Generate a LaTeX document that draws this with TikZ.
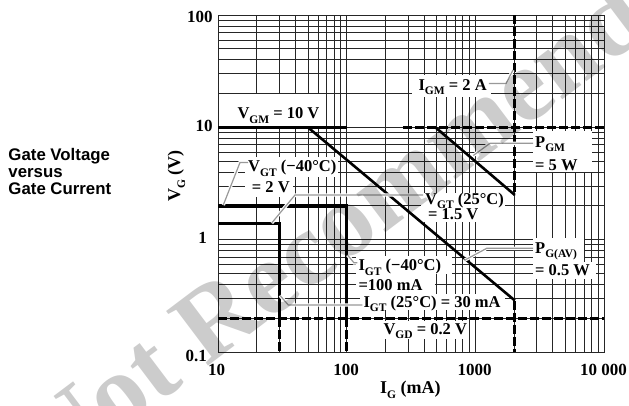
\documentclass[tikz,border=0pt]{standalone}
\usepackage{fontspec}
\setmainfont{Liberation Serif}
\newfontfamily\sansf{Liberation Sans}
\newcommand\sbs[1]{\raisebox{-0.28em}{\fontsize{11.5}{12}\selectfont #1}}
\begin{document}
\begin{tikzpicture}[x=1pt,y=-1pt,
 gridline/.style={draw=black!85,line width=0.9pt},
 mask/.style={fill=white,draw=none},
 thk/.style={line width=3.2pt},
 thkd/.style={line width=3.2pt,dash pattern=on 9pt off 3pt},
 diag/.style={line width=2.6pt},
 lead/.style={draw=black!40,line width=1.2pt,preaction={draw=white,line width=3.4pt}},
 lbl/.style={font=\fontsize{16.5}{18}\selectfont\bfseries,inner sep=0pt,anchor=base west},
 tick/.style={font=\fontsize{17}{18}\selectfont\bfseries,inner sep=0pt},
 side/.style={font=\sansf\bfseries\fontsize{16.8}{17}\selectfont,inner sep=0pt,anchor=base west}]
\useasboundingbox[fill=white] (0,0) rectangle (629,405);

% grid
\begin{scope}[shift={(218,352)},x=128.7pt,y=112.3pt]
\foreach \d in {0,1,2}{\foreach \m in {1,...,9}{
  \draw[gridline] ({\d+log10(\m)},0) -- ({\d+log10(\m)},3);
  \draw[gridline] (0,{\d+log10(\m)}) -- (3,{\d+log10(\m)});}}
\draw[gridline] (0,0) rectangle (3,3);
\end{scope}

% masks behind labels
\fill[mask] (218.6,94.4) rectangle (322,126);
\fill[mask] (412,74.6) rectangle (491,97);
\fill[mask] (245,157) rectangle (338,177);
\fill[mask] (245,177) rectangle (293,197);
\fill[mask] (421,193) rectangle (505,208);
\fill[mask] (421,208) rectangle (482,222);
\fill[mask] (356,256) rectangle (452,274);
\fill[mask] (356,274) rectangle (435,294);
\fill[mask] (360,294) rectangle (505,310);
\fill[mask] (378,320.6) rectangle (468,339);
\fill[mask] (533,131) rectangle (592,172);
\fill[mask] (533,238) rectangle (584,262);
\fill[mask] (533,262) rectangle (596,279);

% key points
\coordinate (l10) at (218,127.4);  \coordinate (m10) at (346.7,127.4);
\coordinate (d10a) at (403,127.4); \coordinate (r10) at (604,127.4);
\coordinate (l2) at (218,205.9);   \coordinate (c2) at (346.7,205.9);
\coordinate (c2b) at (346.7,318.2); \coordinate (c2e) at (346.7,352);
\coordinate (l15) at (218,223.3);  \coordinate (c15) at (279.4,223.3);
\coordinate (c15b) at (279.4,318.2); \coordinate (c15e) at (279.4,352);
\coordinate (gdl) at (218,318.2);  \coordinate (gdr) at (604,318.2);
\coordinate (gmt) at (514.8,15);   \coordinate (gmm) at (514.8,195);
\coordinate (gmn) at (514.8,300.5); \coordinate (gmb) at (514.8,352);
\coordinate (pgms) at (435.5,127.4); \coordinate (pgme) at (514.8,195);
\coordinate (pavs) at (308,127.4); \coordinate (pave) at (514.8,300.5);

% thick characteristic lines
\draw[thk] (l10) -- (m10);
\draw[thkd] (d10a) -- (r10);
\draw[thk] (l2) -- (c2) -- (c2b);
\draw[thkd] (c2b) -- (c2e);
\draw[thk] (l15) -- (c15) -- (c15b);
\draw[thkd] (c15b) -- (c15e);
\draw[thkd] (gdl) -- (gdr);
\draw[thkd] (gmt) -- (gmm);
\draw[thkd] (gmn) -- (gmb);
\draw[diag] (pgms) -- (pgme);
\draw[diag] (pavs) -- (pave);

% labels
\node[lbl] (vgm) at (237.3,118.5) {V\sbs{GM} = 10 V};
\node[lbl] (igm) at (418.3,90) {I\sbs{GM} = 2 A};
\node[lbl] (pgm1) at (535,147) {P\sbs{GM}};
\node[lbl] (pgm2) at (535,170) {= 5 W};
\node[lbl] (vgt40a) at (248,171.7) {V\sbs{GT} (−40°C)};
\node[lbl] (vgt40b) at (251.7,192.7) {= 2 V};
\node[lbl] (vgt25a) at (425,204) {V\sbs{GT} (25°C)};
\node[lbl] (vgt25b) at (428,219.3) {= 1.5 V};
\node[lbl] (pav1) at (535,253.3) {P\sbs{G(AV)}};
\node[lbl] (pav2) at (535,275.7) {= 0.5 W};
\node[lbl] (igt40a) at (358.3,270.7) {I\sbs{GT} (−40°C)};
\node[lbl] (igt40b) at (358.3,290) {=100 mA};
\node[lbl] (igt25) at (363.3,307) {I\sbs{GT} (25°C) = 30 mA};
\node[lbl] (vgd) at (383.3,334) {V\sbs{GD} = 0.2 V};

% leaders
\coordinate (a1) at (240,162.5); \coordinate (a1e) at (223.3,205);
\draw[lead] (vgt40a.west |- a1) -- (a1) -- (a1e);
\coordinate (a2) at (295,195); \coordinate (a2e) at (271.7,223);
\draw[lead] ([xshift=-2pt]vgt25a.west |- a2) -- (a2) -- (a2e);
\coordinate (a3) at (354,262.8); \coordinate (a3e) at (347.5,255);
\draw[lead] ([xshift=-1pt]igt40a.west |- a3) -- (a3) -- (a3e);
\coordinate (a4) at (288.3,305); \coordinate (a4e) at (280,295.5);
\draw[lead] ([xshift=-1pt]igt25.west |- a4) -- (a4) -- (a4e);
\coordinate (a5) at (486.7,248.3); \coordinate (a5e) at (465,260);
\draw[lead] ([xshift=-2pt]pav1.west |- a5) -- (a5) -- (a5e);
\coordinate (a6) at (490,143.3); \coordinate (a6e) at (473.3,155.5);
\draw[lead] ([xshift=-2pt]pgm1.west |- a6) -- (a6) -- (a6e);
\coordinate (a7) at (506,83.5); \coordinate (a7e) at (513,70);
\draw[lead] ([xshift=2pt]igm.east |- a7) -- (a7) -- (a7e);

% axis numbers
\node[tick,anchor=base east] (y100) at (212.7,22) {100};
\node[tick,anchor=base east] (y10) at (212.7,131.5) {10};
\node[tick,anchor=base east] (y1) at (207,243.3) {1};
\node[tick,anchor=base east] (y01) at (207,361.7) {0.1};
\node[tick,anchor=base] (x10) at (216.5,375) {10};
\node[tick,anchor=base] (x100) at (346,375) {100};
\node[tick,anchor=base] (x1000) at (474.5,375) {1000};
\node[tick,anchor=base] (x10000) at (603.5,375) {10 000};
\node[tick,font=\fontsize{18}{18}\selectfont\bfseries,anchor=base west] (xt) at (380,393) {I\sbs{G} (mA)};
\node[tick,font=\fontsize{18}{18}\selectfont\bfseries,rotate=90,anchor=base] (yt) at (180,176) {V\sbs{G} (V)};

% side caption
\node[side] (c1) at (8.3,160) {Gate Voltage};
\node[side] (c2t) at (8.3,177) {versus};
\node[side] (c3) at (8.3,194) {Gate Current};

% watermark
\node[opacity=0.2,rotate=37,inner sep=0pt,font=\fontsize{105}{105}\selectfont\bfseries] (wm) at (375,196) {Not Recommended};
\end{tikzpicture}
\end{document}
